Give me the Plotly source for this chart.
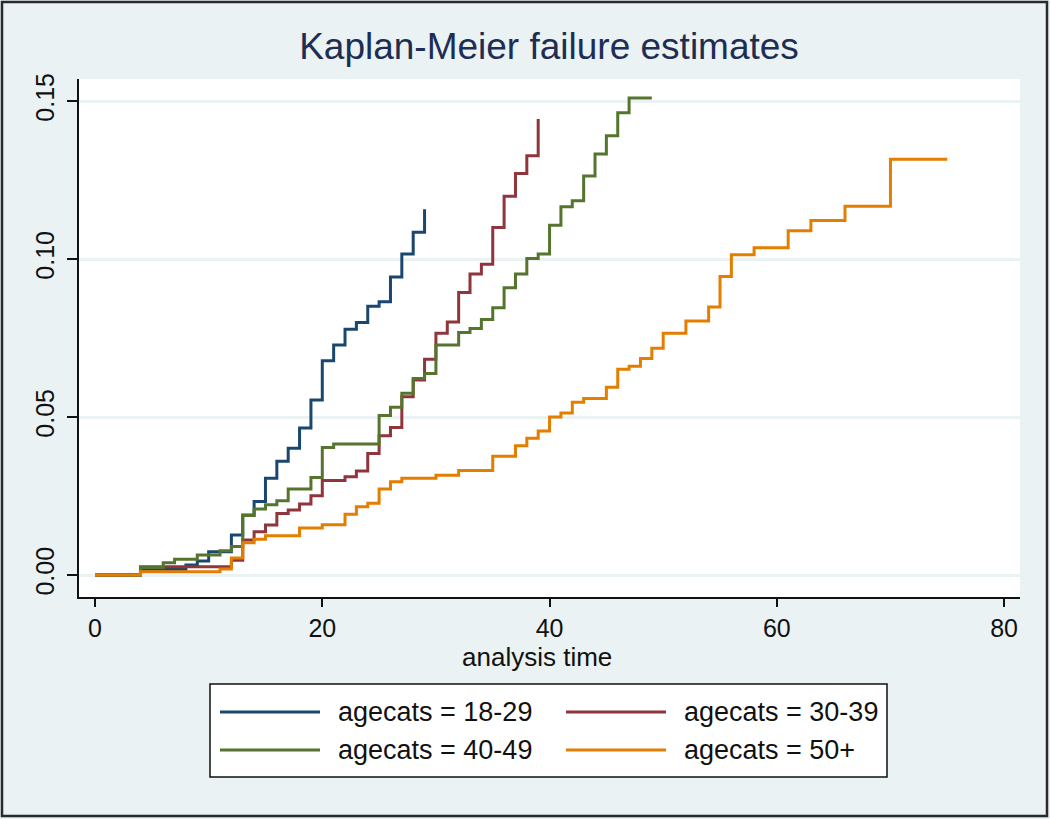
import plotly.graph_objects as go

# ---- data ----
t_1829 = [0, 4, 8, 9, 10, 12, 13, 14, 15, 16, 17, 18, 19, 20, 21, 22, 23, 24, 25, 26, 27, 28, 29]
f_1829 = [0, 0.0018, 0.0032, 0.0044, 0.0074, 0.0127, 0.0190, 0.0233, 0.0306, 0.0360, 0.0401, 0.0465,
          0.0554, 0.0678, 0.0728, 0.0778, 0.0799, 0.0851, 0.0865, 0.0943, 0.1016, 0.1085, 0.1158]

t_3039 = [0, 4, 12, 13, 14, 15, 16, 17, 18, 19, 20, 22, 23, 24, 25, 26, 27, 28, 29, 30, 31, 32, 33,
          34, 35, 36, 37, 38, 39]
f_3039 = [0, 0.0026, 0.0047, 0.0111, 0.0137, 0.0158, 0.0195, 0.0206, 0.0225, 0.0251, 0.0299, 0.0311,
          0.0329, 0.0385, 0.0441, 0.0467, 0.0564, 0.0617, 0.0683, 0.0765, 0.0801, 0.0894, 0.0953,
          0.0984, 0.1100, 0.1199, 0.1271, 0.1327, 0.1443]

t_4049 = [0, 4, 6, 7, 9, 11, 12, 13, 14, 15, 16, 17, 19, 20, 21, 25, 26, 27, 28, 29, 30, 32, 33, 34,
          35, 36, 37, 38, 39, 40, 41, 42, 43, 44, 45, 46, 47, 49]
f_4049 = [0, 0.0024, 0.0039, 0.0050, 0.0063, 0.0077, 0.0090, 0.0188, 0.0209, 0.0222, 0.0235, 0.0272,
          0.0309, 0.0404, 0.0415, 0.0505, 0.0531, 0.0575, 0.0622, 0.0638, 0.0728, 0.0768, 0.0780,
          0.0809, 0.0846, 0.0909, 0.0953, 0.1002, 0.1016, 0.1107, 0.1166, 0.1185, 0.1263, 0.1333,
          0.1390, 0.1463, 0.1510, 0.1510]

t_50p = [0, 4, 11, 12, 13, 14, 15, 18, 20, 22, 23, 24, 25, 26, 27, 30, 32, 35, 37, 38, 39, 40, 41,
         42, 43, 45, 46, 47, 48, 49, 50, 52, 54, 55, 56, 58, 61, 63, 66, 70, 75]
f_50p = [0, 0.0010, 0.0019, 0.0054, 0.0102, 0.0113, 0.0124, 0.0149, 0.0159, 0.0192, 0.0216, 0.0227,
         0.0272, 0.0295, 0.0306, 0.0316, 0.0331, 0.0376, 0.0409, 0.0433, 0.0456, 0.0500, 0.0513,
         0.0547, 0.0559, 0.0594, 0.0651, 0.0661, 0.0685, 0.0718, 0.0765, 0.0804, 0.0848, 0.0945,
         0.1014, 0.1036, 0.1090, 0.1122, 0.1167, 0.1316, 0.1316]

series_names = ["agecats = 18-29", "agecats = 30-39", "agecats = 40-49", "agecats = 50+"]
series_colors = ["#1A476F", "#90353B", "#55752F", "#E37E00"]
x_ticks = [0, 20, 40, 60, 80]
y_ticks = [0.00, 0.05, 0.10, 0.15]

# ---- layout geometry ----
W, H = 1050, 819
ml, mr, mt, mb = 79, 30, 79, 222
pw, ph = W - ml - mr, H - mt - mb


def px(x):
    return (x - ml) / pw


def py(y):
    return (H - mb - y) / ph


BG = "#EAF2F3"
FONT = "Liberation Sans, Arial, Helvetica, sans-serif"

fig = go.Figure()
for tt, ff, nm, col in zip([t_1829, t_3039, t_4049, t_50p], [f_1829, f_3039, f_4049, f_50p],
                           series_names, series_colors):
    fig.add_trace(go.Scatter(x=tt, y=ff, mode="lines", name=nm, line=dict(color=col, width=3, shape="hv"),
                             showlegend=False))

shapes = []
annotations = []
# outer frame
shapes.append(dict(type="rect", xref="paper", yref="paper", x0=px(2), x1=px(1047), y0=py(816), y1=py(2),
                   line=dict(color="#2a2a2a", width=2.5), fillcolor="rgba(0,0,0,0)", layer="above"))
# legend box
lx0, lx1, ly0, ly1 = 210, 887, 684, 777
shapes.append(dict(type="rect", xref="paper", yref="paper", x0=px(lx0), x1=px(lx1), y0=py(ly1), y1=py(ly0),
                   line=dict(color="#111111", width=1.5), fillcolor="white", layer="below"))
rows = [712, 750]
cols = [(220, 320, 336), (566, 666, 682)]
for i, (nm, col) in enumerate(zip(series_names, series_colors)):
    r, c = divmod(i, 2)
    x0, x1, xt = cols[c]
    yy = rows[r]
    shapes.append(dict(type="line", xref="paper", yref="paper", x0=px(x0), x1=px(x1), y0=py(yy), y1=py(yy),
                       line=dict(color=col, width=3)))
    annotations.append(dict(text=nm, xref="paper", yref="paper", x=px(xt), y=py(yy), xanchor="left",
                            yanchor="middle", showarrow=False, font=dict(size=27, color="#111111", family=FONT)))
# x axis title
annotations.append(dict(text="analysis time", xref="paper", yref="paper", x=px(537), y=py(657),
                        xanchor="center", yanchor="middle", showarrow=False,
                        font=dict(size=26, color="#111111", family=FONT)))

fig.update_layout(
    width=W, height=H,
    margin=dict(l=ml, r=mr, t=mt, b=mb, autoexpand=False),
    paper_bgcolor=BG, plot_bgcolor="white",
    title=dict(text="Kaplan-Meier failure estimates", x=px(549), xref="paper", xanchor="center",
               y=1 - 46 / H, yref="container", yanchor="middle",
               font=dict(size=37, color="#1E2D53", family=FONT)),
    font=dict(family=FONT, color="#111111"),
    shapes=shapes, annotations=annotations,
    showlegend=False,
)
fig.update_xaxes(range=[-1.41, 81.4], tickvals=x_ticks, ticktext=[str(v) for v in x_ticks],
                 showgrid=False, zeroline=False, showline=True, linecolor="#111111", linewidth=1.5,
                 ticks="outside", ticklen=8, tickwidth=1.5, tickcolor="#111111",
                 tickfont=dict(size=25, color="#111111", family=FONT))
fig.update_yaxes(range=[-0.00696, 0.157], tickvals=y_ticks, ticktext=[f"{v:.2f}" for v in y_ticks],
                 showgrid=True, gridcolor=BG, gridwidth=2.5, zeroline=False, showline=True,
                 linecolor="#111111", linewidth=1.5, ticks="outside", ticklen=10, tickwidth=1.5,
                 tickcolor="#111111", tickangle=-90, ticklabelstandoff=3,
                 tickfont=dict(size=25, color="#111111", family=FONT))

fig.write_html("out.html", config={"displayModeBar": False},
               post_script="document.body.style.margin='0';")
